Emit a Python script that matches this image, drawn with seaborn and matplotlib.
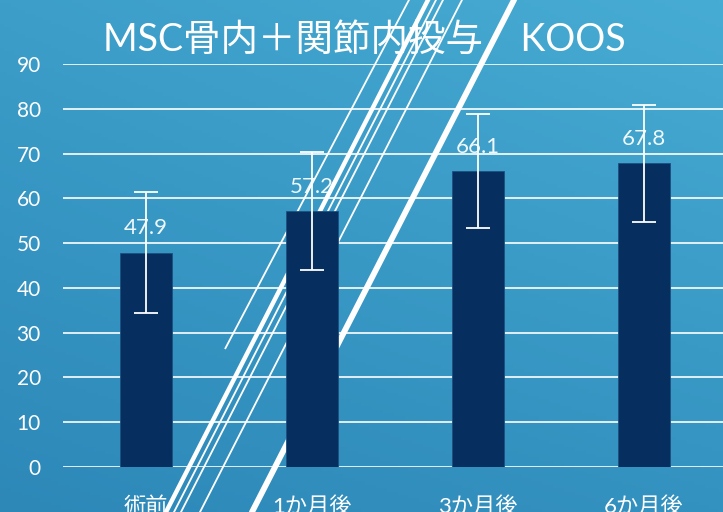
import numpy as np
import pandas as pd
import matplotlib
matplotlib.use("Agg")
import matplotlib.pyplot as plt
from matplotlib.lines import Line2D
import seaborn as sns

# ---- data ----
categories = ['術前', '1か月後', '3か月後', '6か月後']
means = [47.9, 57.2, 66.1, 67.8]
errors = [13.5, 13.2, 12.7, 13.0]
yticks = [0, 10, 20, 30, 40, 50, 60, 70, 80, 90]
title = 'MSC骨内＋関節内投与\u3000KOOS'

sns.set_theme(style='white')
plt.rcParams['font.family'] = ['Lato', 'Noto Sans CJK JP', 'DejaVu Sans']

W, H = 723, 512
fig = plt.figure(figsize=(W / 100, H / 100), dpi=100)

# background gradient (lighter top-right, darker bottom-left)
bg = fig.add_axes([0, 0, 1, 1], zorder=-10)
tl = np.array([60, 158, 201]) / 255
tr = np.array([71, 172, 211]) / 255
bl = np.array([45, 136, 184]) / 255
br = np.array([52, 146, 192]) / 255
u = np.linspace(0, 1, 200)[None, :, None]
v = np.linspace(0, 1, 150)[:, None, None]
img = (1 - v) * ((1 - u) * tl + u * tr) + v * ((1 - u) * bl + u * br)
bg.imshow(img, aspect='auto', extent=[0, 1, 0, 1], origin='upper')
bg.set_axis_off()

ax = fig.add_axes([63 / W, (H - 467) / H, (W - 63) / W, (467 - 64) / H])
ax.set_facecolor('none')

df = pd.DataFrame({'cat': categories, 'val': means})
sns.barplot(data=df, x='cat', y='val', ax=ax, color='#062e5f', width=0.313,
            saturation=1, errorbar=None, zorder=3, edgecolor='#1d4f80', linewidth=0.6)
ax.errorbar(np.arange(len(categories)), means, yerr=errors, fmt='none',
            ecolor='white', elinewidth=1.3, capsize=8.5, capthick=1.3, zorder=4)

for i, m in enumerate(means):
    ax.annotate(f'{m}', (i, m), xytext=(0, 17.5), textcoords='offset points',
                ha='center', va='center', color='white', alpha=0.92,
                fontsize=16, zorder=1.9)

ax.set_xlim(-0.5, 3.476)
ax.set_ylim(0, 90)
ax.set_yticks(yticks)
ax.yaxis.grid(True, color='white', linewidth=1.2)
ax.xaxis.grid(False)
ax.set_axisbelow(True)
for s in ax.spines.values():
    s.set_visible(False)
ax.tick_params(axis='y', length=0, pad=16, labelsize=15, labelcolor='white')
ax.tick_params(axis='x', length=0, pad=21, labelsize=16, labelcolor='white')
ax.set_xlabel('')
ax.set_ylabel('')

fig.text(364 / W, 1 - 40 / H, title, ha='center', va='center', color='white',
         fontsize=27)

# decorative diagonal strokes (figure pixel coordinates)
strokes = [((225, 349), (410, -2), 1.3),
           ((165, 514), (429, -2), 3.2),
           ((173, 514), (437, -2), 1.3),
           ((180, 514), (444, -2), 1.3),
           ((199, 514), (463, -2), 1.3),
           ((251, 514), (515, -2), 4.2)]
for (x0, y0), (x1, y1), lw in strokes:
    ln = Line2D([x0 / W, x1 / W], [1 - y0 / H, 1 - y1 / H], transform=fig.transFigure,
                color='white', linewidth=lw, zorder=2, solid_capstyle='butt')
    ax.add_artist(ln)
    ln.set_clip_on(False)

fig.savefig('out.png', dpi=100)
